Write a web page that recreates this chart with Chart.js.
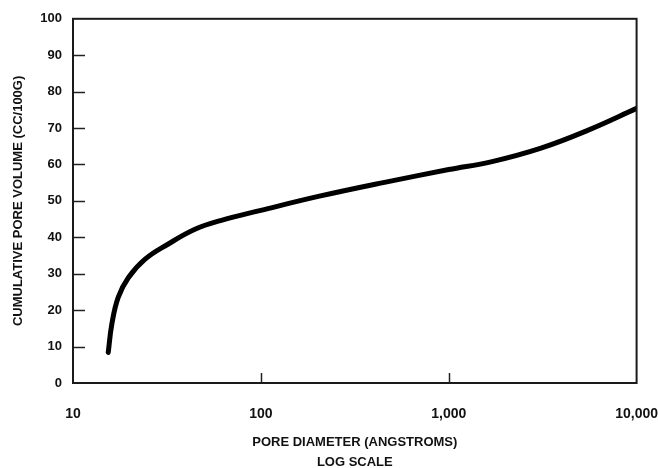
<!DOCTYPE html>
<html>
<head>
<meta charset="utf-8">
<script src="https://cdn.jsdelivr.net/npm/chart.js@4/dist/chart.umd.min.js"></script>
<style>
  body { margin: 0; background: #fff; }
  #wrap { width: 658px; height: 468px; }
</style>
</head>
<body>
<div id="wrap"><canvas id="poreChart" width="658" height="468"></canvas></div>
<script>
/* Data */
const poreDiameter = [15.4, 16.1, 17.4, 19.7, 24.2, 32, 44.6, 61, 100, 205, 455, 1000, 1700, 3100, 5450, 10000];
const poreVolume   = [8.4, 16.2, 23.5, 28.9, 34, 38.1, 42.2, 44.6, 47.4, 51.3, 55.1, 58.6, 60.8, 64.5, 69.3, 75.4];

const xTickValues = [10, 100, 1000, 10000];
const xTickLabels = ['10', '100', '1,000', '10,000'];
const yTickValues = [0, 10, 20, 30, 40, 50, 60, 70, 80, 90, 100];

/* Inward tick marks and frame, like the printed figure */
const frameTicks = {
  id: 'frameTicks',
  afterDraw(chart) {
    const ctx = chart.ctx;
    const area = chart.chartArea;
    const xs = chart.scales.x;
    const ys = chart.scales.y;
    ctx.save();
    ctx.strokeStyle = '#222';
    ctx.lineWidth = 1.5;
    for (const v of yTickValues) {
      if (v === 0 || v === 100) continue;
      const y = Math.round(ys.getPixelForValue(v)) + 0.5;
      ctx.beginPath();
      ctx.moveTo(area.left, y);
      ctx.lineTo(area.left + 12, y);
      ctx.stroke();
    }
    for (const v of xTickValues) {
      if (v === 10 || v === 10000) continue;
      const x = Math.round(xs.getPixelForValue(v)) + 0.5;
      ctx.beginPath();
      ctx.moveTo(x, area.bottom);
      ctx.lineTo(x, area.bottom - 10);
      ctx.stroke();
    }
    ctx.lineWidth = 2;
    ctx.strokeStyle = '#1a1a1a';
    ctx.strokeRect(area.left, area.top, area.right - area.left, area.bottom - area.top);
    ctx.restore();
  }
};

const ctx = document.getElementById('poreChart').getContext('2d');

// eslint-disable-next-line no-undef
const chart = new Chart(ctx, {
  type: 'scatter',
  data: {
    datasets: [{
      label: 'Cumulative pore volume',
      data: poreDiameter.map((d, i) => ({ x: d, y: poreVolume[i] })),
      showLine: true,
      borderColor: '#000',
      backgroundColor: '#000',
      borderWidth: 5,
      borderCapStyle: 'round',
      pointRadius: 0,
      tension: 0.4,
    }]
  },
  options: {
    responsive: false,
    animation: false,
    devicePixelRatio: 1,
    layout: { padding: { top: 18, right: 0, left: 0, bottom: 0 } },
    plugins: {
      legend: { display: false },
      tooltip: { enabled: false },
    },
    scales: {
      x: {
        type: 'logarithmic',
        min: 10,
        max: 10000,
        afterFit(scale) { scale.height = 85; },
        afterBuildTicks(scale) {
          scale.ticks = xTickValues.map(v => ({ value: v, major: true }));
        },
        ticks: {
          autoSkip: false,
          maxRotation: 0,
          padding: 0,
          color: '#111',
          font: { family: 'Liberation Sans, Arial, sans-serif', size: 14, weight: 'bold' },
          callback: (v) => xTickLabels[xTickValues.indexOf(v)],
        },
        // tick marks are hidden; tickLength only pushes the labels down
        grid: { display: false, drawTicks: true, tickLength: 23 },
        border: { display: false },
        title: {
          display: true,
          text: ['PORE DIAMETER (ANGSTROMS)', 'LOG SCALE'],
          color: '#111',
          font: { family: 'Liberation Sans, Arial, sans-serif', size: 13, weight: 'bold', lineHeight: 1.5 },
          padding: { top: 0, bottom: -4 },
        },
      },
      y: {
        min: 0,
        max: 100,
        afterFit(scale) { scale.width = 73; },
        afterBuildTicks(scale) {
          scale.ticks = yTickValues.map(v => ({ value: v }));
        },
        ticks: {
          padding: 11,
          color: '#111',
          font: { family: 'Liberation Sans, Arial, sans-serif', size: 13, weight: 'bold' },
        },
        grid: { display: false, drawTicks: false },
        border: { display: false },
        title: {
          display: true,
          text: 'CUMULATIVE PORE VOLUME (CC/100G)',
          color: '#111',
          font: { family: 'Liberation Sans, Arial, sans-serif', size: 13, weight: 'bold' },
          padding: { top: 11, bottom: 0 },
        },
      },
    },
  },
  plugins: [frameTicks],
});
</script>
</body>
</html>
